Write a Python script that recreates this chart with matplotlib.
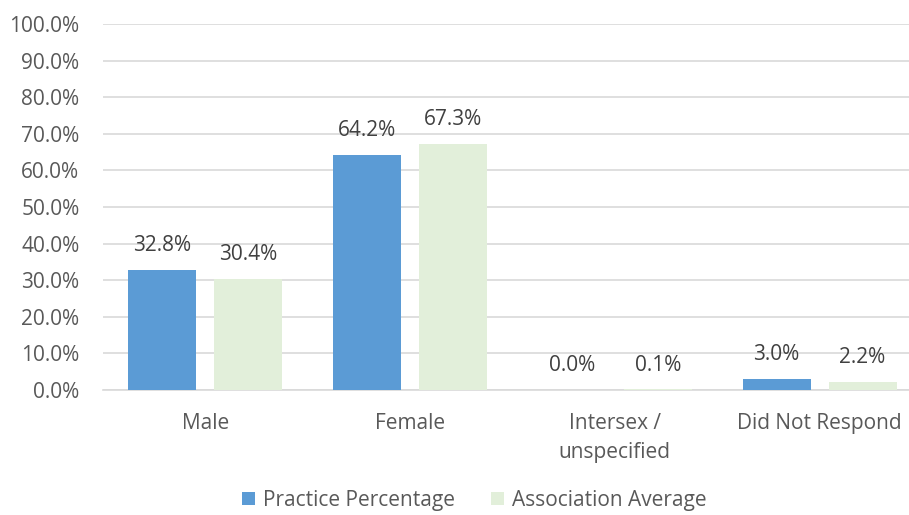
import matplotlib
matplotlib.use('Agg')
import numpy as np
import matplotlib.pyplot as plt
from matplotlib.ticker import FuncFormatter

plt.rcParams['font.family'] = ['Open Sans', 'DejaVu Sans']

categories = ['Male', 'Female', 'Intersex /\nunspecified', 'Did Not Respond']
practice = [32.8, 64.2, 0.0, 3.0]
association = [30.4, 67.3, 0.1, 2.2]
series_names = ['Practice Percentage', 'Association Average']

text_col = '#595959'
fs = 15
fig = plt.figure(figsize=(9.09, 5.15), dpi=100)
ax = fig.add_axes([0.1133, 0.243, 0.901, 0.71])

x = np.arange(len(categories))
w = 0.332
b1 = ax.bar(x - 0.21, practice, w, color='#5B9BD5', label=series_names[0], zorder=3)
b2 = ax.bar(x + 0.21, association, w, color='#E2EFDA', label=series_names[1], zorder=3)

for bars, vals in [(b1, practice), (b2, association)]:
    for r, v in zip(bars, vals):
        ax.annotate(f'{v:.1f}%', (r.get_x() + r.get_width() / 2, v),
                    xytext=(0, 10), textcoords='offset points',
                    ha='center', va='bottom', fontsize=fs, color='#404040')

ax.set_ylim(0, 100)
ax.set_xlim(-0.5, 3.5)
ax.set_yticks(np.arange(0, 101, 10))
ax.yaxis.set_major_formatter(FuncFormatter(lambda v, p: f'{v:.1f}%'))
ax.grid(axis='y', color='#D9D9D9', linewidth=1.2, zorder=0)
ax.set_xticks(x)
ax.set_xticklabels(categories, linespacing=1.45)
ax.tick_params(axis='both', length=0, labelsize=fs, colors=text_col)
ax.tick_params(axis='x', pad=17)
ax.tick_params(axis='y', pad=17)
for s in ['top', 'right', 'left']:
    ax.spines[s].set_visible(False)
ax.spines['bottom'].set_color('#D9D9D9')
ax.spines['bottom'].set_linewidth(1.2)

leg = fig.legend(loc='lower center', bbox_to_anchor=(0.522, -0.028), ncol=2, frameon=False,
                 fontsize=fs, handlelength=0.6, handleheight=0.6, columnspacing=1.75,
                 handletextpad=0.4)
for t in leg.get_texts():
    t.set_color(text_col)

fig.savefig('out.png', dpi=100)
